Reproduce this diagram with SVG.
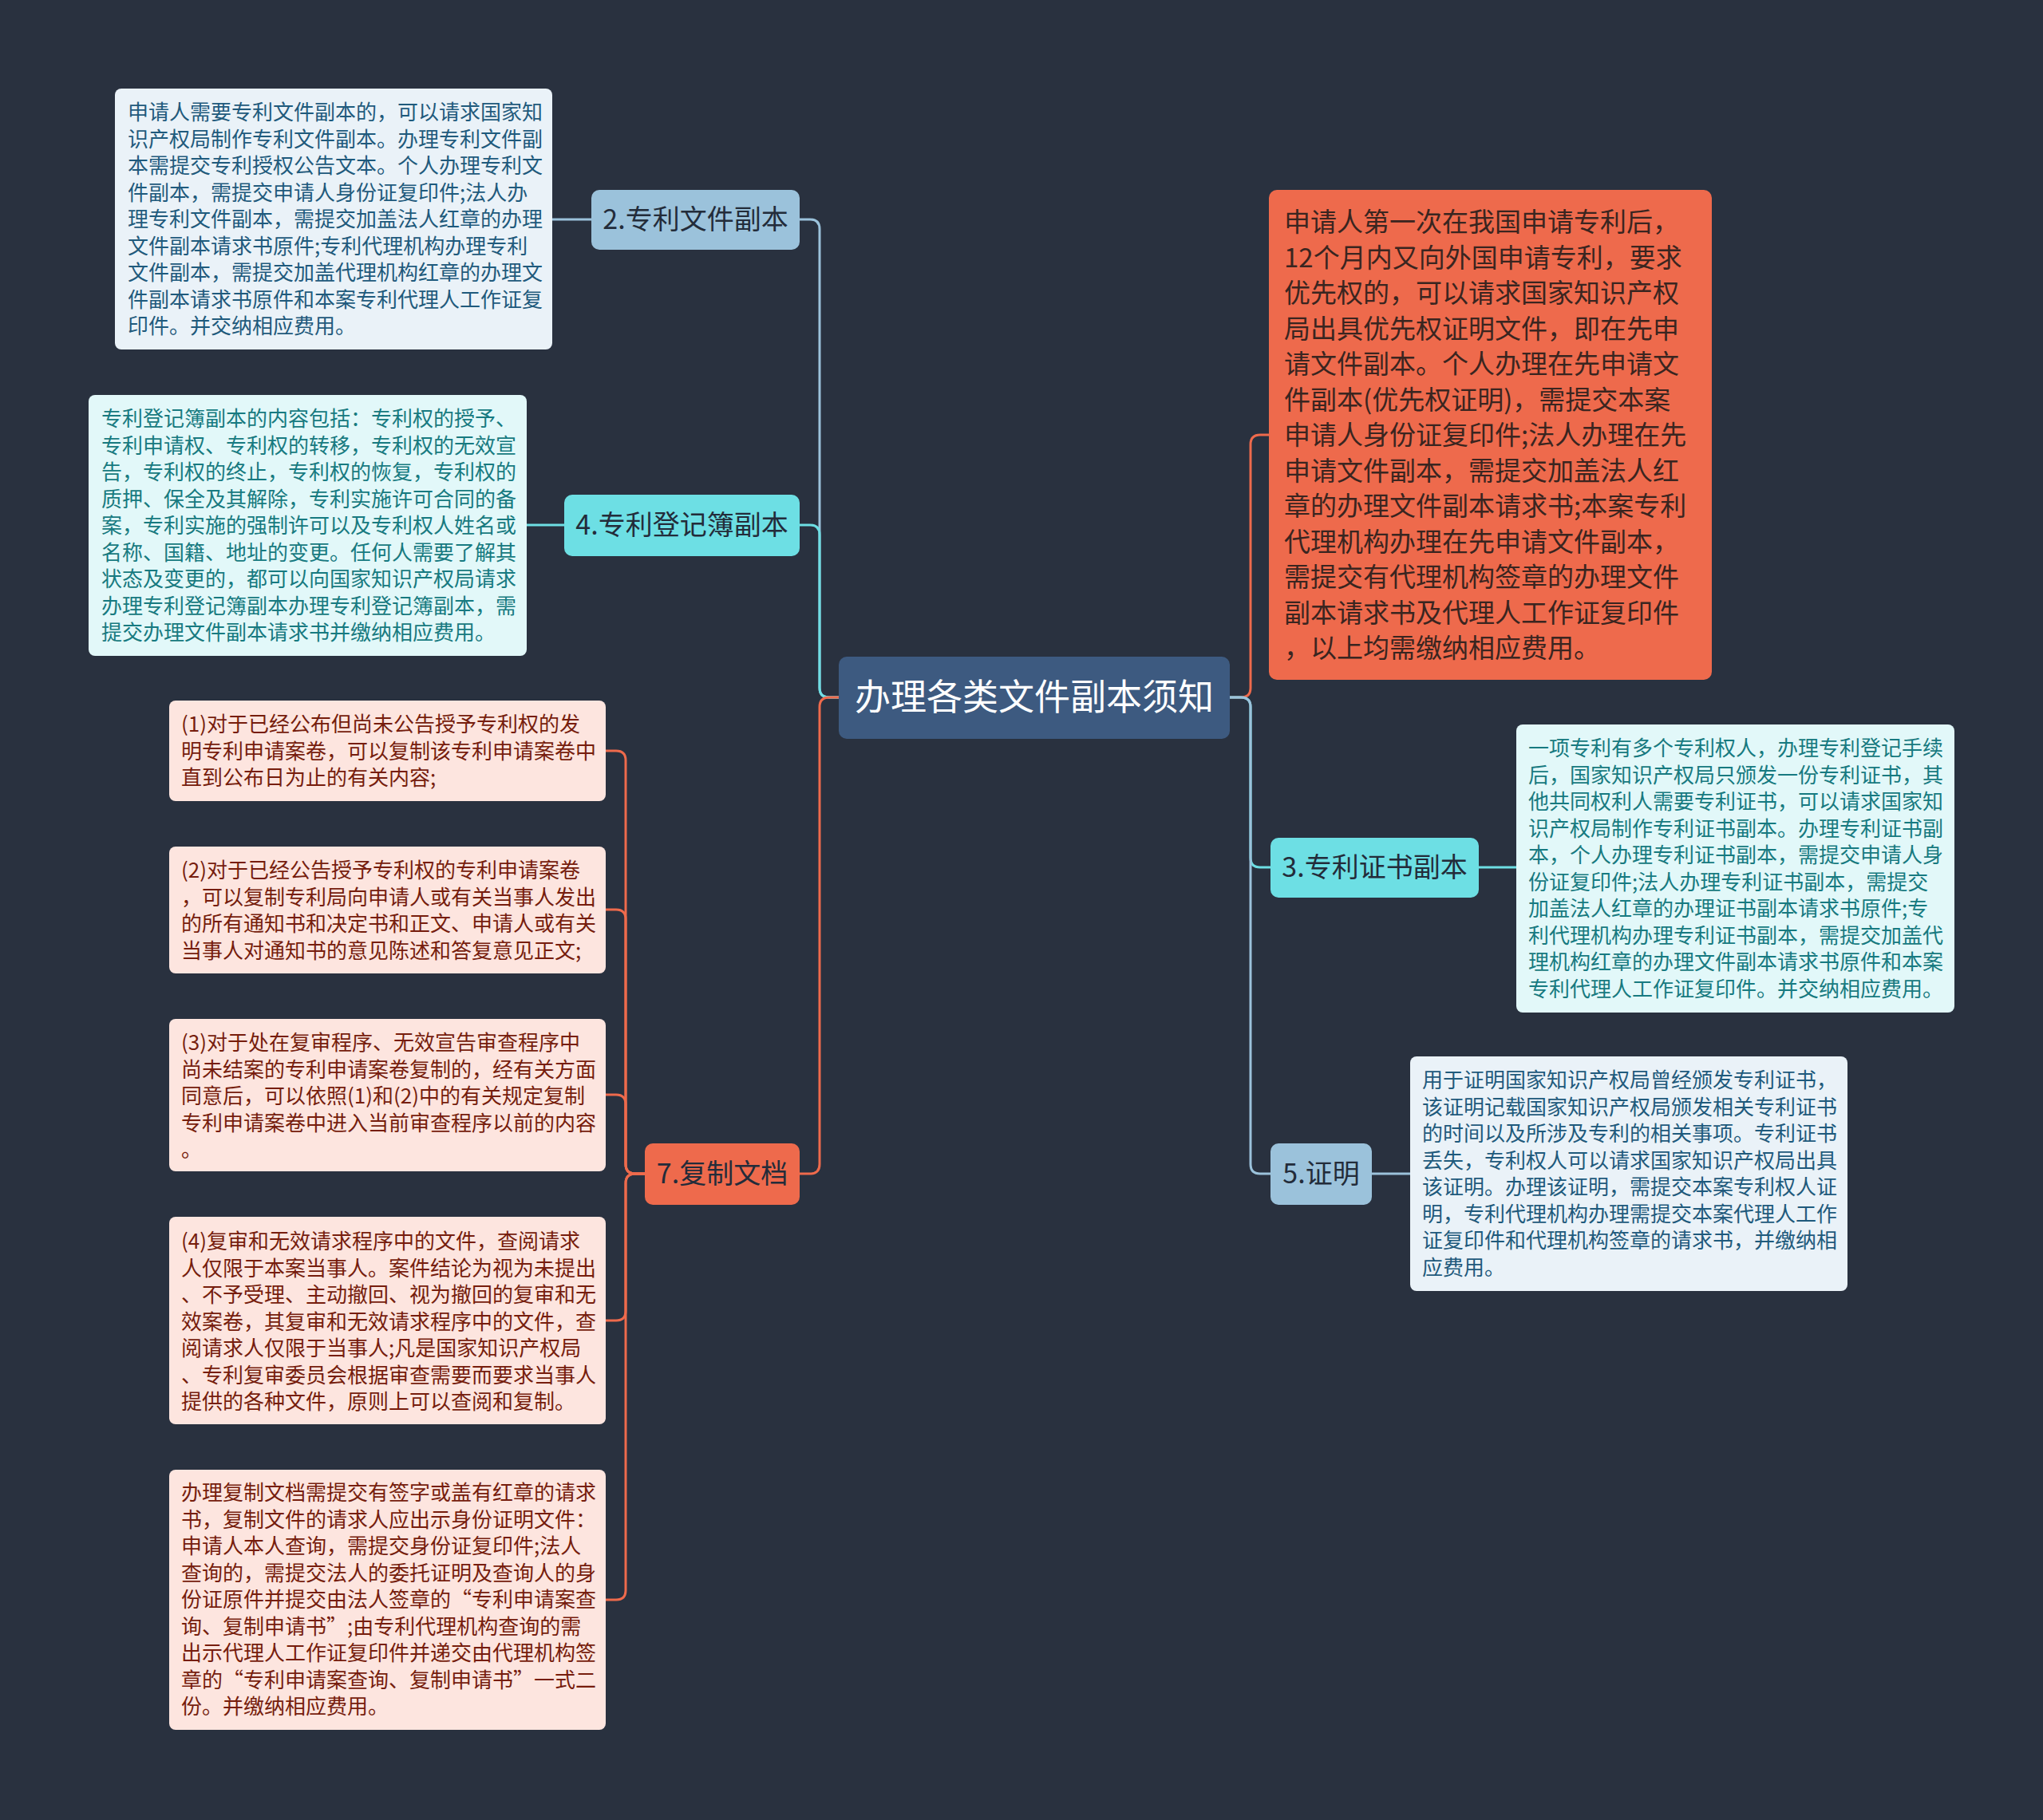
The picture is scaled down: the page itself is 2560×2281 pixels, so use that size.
<svg xmlns="http://www.w3.org/2000/svg" width="2560" height="2281" viewBox="0 0 2560 2281">
<defs>
<style>
text{font-family:"Noto Sans CJK SC","Noto Sans",sans-serif;}
.lbl{font-size:34px;fill:#232c3a;text-anchor:middle;}
.ctr{font-size:45px;fill:#ffffff;text-anchor:middle;}
.t{font-size:26px;}
.tb{fill:#1f5a7c;}
.tc{fill:#177a80;}
.tr{fill:#761d0d;}
.tk{font-size:33px;fill:#3a2520;}
.c{fill:none;stroke-width:3;}
.cb{stroke:#9bc2db;}
.cc{stroke:#6ddfe4;}
.co{stroke:#ee6a4c;}
</style>
</defs>
<rect x="0" y="0" width="2560" height="2281" fill="#29313f"/>

<g id="connectors">
<path class="c cb" d="M1051,874 H1039 Q1027,874 1027,862 V287 Q1027,275 1015,275 H1002"/>
<path class="c cc" d="M1051,874 H1039 Q1027,874 1027,862 V670 Q1027,658 1015,658 H1002"/>
<path class="c co" d="M1051,874 H1039 Q1027,874 1027,886 V1459 Q1027,1471 1015,1471 H1002"/>
<path class="c co" d="M1541,874 H1555 Q1567,874 1567,862 V557 Q1567,545 1579,545 H1590"/>
<path class="c cc" d="M1541,874 H1555 Q1567,874 1567,886 V1075 Q1567,1087 1579,1087 H1592"/>
<path class="c cb" d="M1541,874 H1555 Q1567,874 1567,886 V1459 Q1567,1471 1579,1471 H1592"/>
<path class="c cb" d="M741,275 H692"/>
<path class="c cc" d="M707,658 H660"/>
<path class="c cc" d="M1853,1087 H1900"/>
<path class="c cb" d="M1719,1471 H1767"/>
<path class="c co" d="M808,1471 H796 Q784,1471 784,1459 V953 Q784,941 772,941 H759"/>
<path class="c co" d="M808,1471 H796 Q784,1471 784,1459 V1152 Q784,1140 772,1140 H759"/>
<path class="c co" d="M808,1471 H796 Q784,1471 784,1459 V1384 Q784,1372 772,1372 H759"/>
<path class="c co" d="M808,1471 H796 Q784,1471 784,1483 V1643 Q784,1655 772,1655 H759"/>
<path class="c co" d="M808,1471 H796 Q784,1471 784,1483 V1993 Q784,2005 772,2005 H759"/>
</g>

<g id="center">
<rect x="1051" y="823" width="490" height="103" rx="10" fill="#3d5a80"/>
<text class="ctr" x="1296" y="890">办理各类文件副本须知</text>
</g>

<g id="node1">
<rect x="1590" y="238" width="555" height="614" rx="10" fill="#ee6a4c"/>
<text class="tk" x="1609" y="290">
<tspan x="1609" dy="0">申请人第一次在我国申请专利后，</tspan>
<tspan x="1609" dy="44.5">12个月内又向外国申请专利，要求</tspan>
<tspan x="1609" dy="44.5">优先权的，可以请求国家知识产权</tspan>
<tspan x="1609" dy="44.5">局出具优先权证明文件，即在先申</tspan>
<tspan x="1609" dy="44.5">请文件副本。个人办理在先申请文</tspan>
<tspan x="1609" dy="44.5">件副本(优先权证明)，需提交本案</tspan>
<tspan x="1609" dy="44.5">申请人身份证复印件;法人办理在先</tspan>
<tspan x="1609" dy="44.5">申请文件副本，需提交加盖法人红</tspan>
<tspan x="1609" dy="44.5">章的办理文件副本请求书;本案专利</tspan>
<tspan x="1609" dy="44.5">代理机构办理在先申请文件副本，</tspan>
<tspan x="1609" dy="44.5">需提交有代理机构签章的办理文件</tspan>
<tspan x="1609" dy="44.5">副本请求书及代理人工作证复印件</tspan>
<tspan x="1609" dy="44.5">，以上均需缴纳相应费用。</tspan>
</text>
</g>

<g id="node2">
<rect x="741" y="238" width="261" height="75" rx="10" fill="#9bc2db"/>
<text class="lbl" x="871.5" y="287">2.专利文件副本</text>
</g>
<g id="node2-text">
<rect x="144" y="111" width="548" height="327" rx="8" fill="#eaf2f8"/>
<text class="t tb" x="160" y="150">
<tspan x="160" dy="0">申请人需要专利文件副本的，可以请求国家知</tspan>
<tspan x="160" dy="33.5">识产权局制作专利文件副本。办理专利文件副</tspan>
<tspan x="160" dy="33.5">本需提交专利授权公告文本。个人办理专利文</tspan>
<tspan x="160" dy="33.5">件副本，需提交申请人身份证复印件;法人办</tspan>
<tspan x="160" dy="33.5">理专利文件副本，需提交加盖法人红章的办理</tspan>
<tspan x="160" dy="33.5">文件副本请求书原件;专利代理机构办理专利</tspan>
<tspan x="160" dy="33.5">文件副本，需提交加盖代理机构红章的办理文</tspan>
<tspan x="160" dy="33.5">件副本请求书原件和本案专利代理人工作证复</tspan>
<tspan x="160" dy="33.5">印件。并交纳相应费用。</tspan>
</text>
</g>

<g id="node4">
<rect x="707" y="620" width="295" height="77" rx="10" fill="#6ddfe4"/>
<text class="lbl" x="854.5" y="670">4.专利登记簿副本</text>
</g>
<g id="node4-text">
<rect x="111" y="495" width="549" height="327" rx="8" fill="#e2f8f9"/>
<text class="t tc" x="127" y="534">
<tspan x="127" dy="0">专利登记簿副本的内容包括：专利权的授予、</tspan>
<tspan x="127" dy="33.5">专利申请权、专利权的转移，专利权的无效宣</tspan>
<tspan x="127" dy="33.5">告，专利权的终止，专利权的恢复，专利权的</tspan>
<tspan x="127" dy="33.5">质押、保全及其解除，专利实施许可合同的备</tspan>
<tspan x="127" dy="33.5">案，专利实施的强制许可以及专利权人姓名或</tspan>
<tspan x="127" dy="33.5">名称、国籍、地址的变更。任何人需要了解其</tspan>
<tspan x="127" dy="33.5">状态及变更的，都可以向国家知识产权局请求</tspan>
<tspan x="127" dy="33.5">办理专利登记簿副本办理专利登记簿副本，需</tspan>
<tspan x="127" dy="33.5">提交办理文件副本请求书并缴纳相应费用。</tspan>
</text>
</g>

<g id="node3">
<rect x="1592" y="1050" width="261" height="75" rx="10" fill="#6ddfe4"/>
<text class="lbl" x="1722.5" y="1099">3.专利证书副本</text>
</g>
<g id="node3-text">
<rect x="1900" y="908" width="549" height="361" rx="8" fill="#e2f8f9"/>
<text class="t tc" x="1915" y="947">
<tspan x="1915" dy="0">一项专利有多个专利权人，办理专利登记手续</tspan>
<tspan x="1915" dy="33.5">后，国家知识产权局只颁发一份专利证书，其</tspan>
<tspan x="1915" dy="33.5">他共同权利人需要专利证书，可以请求国家知</tspan>
<tspan x="1915" dy="33.5">识产权局制作专利证书副本。办理专利证书副</tspan>
<tspan x="1915" dy="33.5">本，个人办理专利证书副本，需提交申请人身</tspan>
<tspan x="1915" dy="33.5">份证复印件;法人办理专利证书副本，需提交</tspan>
<tspan x="1915" dy="33.5">加盖法人红章的办理证书副本请求书原件;专</tspan>
<tspan x="1915" dy="33.5">利代理机构办理专利证书副本，需提交加盖代</tspan>
<tspan x="1915" dy="33.5">理机构红章的办理文件副本请求书原件和本案</tspan>
<tspan x="1915" dy="33.5">专利代理人工作证复印件。并交纳相应费用。</tspan>
</text>
</g>

<g id="node5">
<rect x="1592" y="1433" width="127" height="77" rx="10" fill="#9bc2db"/>
<text class="lbl" x="1655.5" y="1483">5.证明</text>
</g>
<g id="node5-text">
<rect x="1767" y="1324" width="548" height="294" rx="8" fill="#eaf2f8"/>
<text class="t tb" x="1782" y="1363">
<tspan x="1782" dy="0">用于证明国家知识产权局曾经颁发专利证书，</tspan>
<tspan x="1782" dy="33.5">该证明记载国家知识产权局颁发相关专利证书</tspan>
<tspan x="1782" dy="33.5">的时间以及所涉及专利的相关事项。专利证书</tspan>
<tspan x="1782" dy="33.5">丢失，专利权人可以请求国家知识产权局出具</tspan>
<tspan x="1782" dy="33.5">该证明。办理该证明，需提交本案专利权人证</tspan>
<tspan x="1782" dy="33.5">明，专利代理机构办理需提交本案代理人工作</tspan>
<tspan x="1782" dy="33.5">证复印件和代理机构签章的请求书，并缴纳相</tspan>
<tspan x="1782" dy="33.5">应费用。</tspan>
</text>
</g>

<g id="node7">
<rect x="808" y="1433" width="194" height="77" rx="10" fill="#ee6a4c"/>
<text class="lbl" x="905" y="1483">7.复制文档</text>
</g>
<g id="node7-1">
<rect x="212" y="878" width="547" height="126" rx="8" fill="#fde5df"/>
<text class="t tr" x="227" y="917">
<tspan x="227" dy="0">(1)对于已经公布但尚未公告授予专利权的发</tspan>
<tspan x="227" dy="33.5">明专利申请案卷，可以复制该专利申请案卷中</tspan>
<tspan x="227" dy="33.5">直到公布日为止的有关内容;</tspan>
</text>
</g>
<g id="node7-2">
<rect x="212" y="1061" width="547" height="159" rx="8" fill="#fde5df"/>
<text class="t tr" x="227" y="1100">
<tspan x="227" dy="0">(2)对于已经公告授予专利权的专利申请案卷</tspan>
<tspan x="227" dy="33.5">，可以复制专利局向申请人或有关当事人发出</tspan>
<tspan x="227" dy="33.5">的所有通知书和决定书和正文、申请人或有关</tspan>
<tspan x="227" dy="33.5">当事人对通知书的意见陈述和答复意见正文;</tspan>
</text>
</g>
<g id="node7-3">
<rect x="212" y="1277" width="547" height="191" rx="8" fill="#fde5df"/>
<text class="t tr" x="227" y="1316">
<tspan x="227" dy="0">(3)对于处在复审程序、无效宣告审查程序中</tspan>
<tspan x="227" dy="33.5">尚未结案的专利申请案卷复制的，经有关方面</tspan>
<tspan x="227" dy="33.5">同意后，可以依照(1)和(2)中的有关规定复制</tspan>
<tspan x="227" dy="33.5">专利申请案卷中进入当前审查程序以前的内容</tspan>
<tspan x="227" dy="33.5">。</tspan>
</text>
</g>
<g id="node7-4">
<rect x="212" y="1525" width="547" height="260" rx="8" fill="#fde5df"/>
<text class="t tr" x="227" y="1565">
<tspan x="227" dy="0">(4)复审和无效请求程序中的文件，查阅请求</tspan>
<tspan x="227" dy="33.5">人仅限于本案当事人。案件结论为视为未提出</tspan>
<tspan x="227" dy="33.5">、不予受理、主动撤回、视为撤回的复审和无</tspan>
<tspan x="227" dy="33.5">效案卷，其复审和无效请求程序中的文件，查</tspan>
<tspan x="227" dy="33.5">阅请求人仅限于当事人;凡是国家知识产权局</tspan>
<tspan x="227" dy="33.5">、专利复审委员会根据审查需要而要求当事人</tspan>
<tspan x="227" dy="33.5">提供的各种文件，原则上可以查阅和复制。</tspan>
</text>
</g>
<g id="node7-5">
<rect x="212" y="1842" width="547" height="326" rx="8" fill="#fde5df"/>
<text class="t tr" x="227" y="1880">
<tspan x="227" dy="0">办理复制文档需提交有签字或盖有红章的请求</tspan>
<tspan x="227" dy="33.5">书，复制文件的请求人应出示身份证明文件：</tspan>
<tspan x="227" dy="33.5">申请人本人查询，需提交身份证复印件;法人</tspan>
<tspan x="227" dy="33.5">查询的，需提交法人的委托证明及查询人的身</tspan>
<tspan x="227" dy="33.5">份证原件并提交由法人签章的“专利申请案查</tspan>
<tspan x="227" dy="33.5">询、复制申请书”;由专利代理机构查询的需</tspan>
<tspan x="227" dy="33.5">出示代理人工作证复印件并递交由代理机构签</tspan>
<tspan x="227" dy="33.5">章的“专利申请案查询、复制申请书”一式二</tspan>
<tspan x="227" dy="33.5">份。并缴纳相应费用。</tspan>
</text>
</g>
</svg>
